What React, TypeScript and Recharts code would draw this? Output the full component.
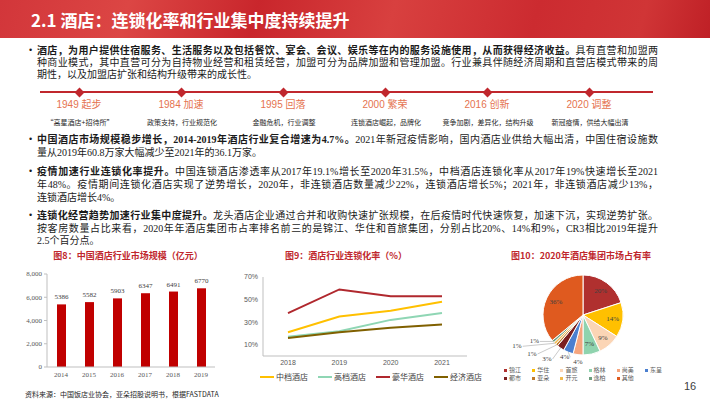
import React from 'react';
import { BarChart, Bar, XAxis, YAxis, LabelList, LineChart, Line, PieChart, Pie, Cell } from 'recharts';

// 图8 市场规模（亿元）
const sizeYears = ['2014', '2015', '2016', '2017', '2018', '2019'];
const sizeValues = [5386, 5582, 5903, 6347, 6491, 6770];
const sizeTicks = [0, 1000, 2000, 3000, 4000, 5000, 6000, 7000, 8000];

// 图9 连锁化率（%）
const chainYears = ['2018', '2019', '2020', '2021'];
const midscale = [21, 35, 40, 48];
const upscale = [17, 22, 32, 38];
const luxury = [38, 59, 53, 53];
const economy = [16, 21, 25, 28];
const chainTicks = [0, 10, 20, 30, 40, 50, 60, 70];

// 图10 2020年酒店集团市场占有率
const groupNames = ['锦江', '华住', '首旅', '格林', '尚美', '东呈', '都市', '亚朵', '开元', '逸柏', '其他'];
const groupShares = [20, 14, 9, 7, 4, 4, 3, 1, 1, 1, 36];

// 发展历程
const stageYears = ['1949', '1984', '1995', '2000', '2016', '2020'];
const stageNames = ['起步', '加速', '回落', '繁荣', '创新', '调整'];
const stageNotes = ['“高星酒店+招待所”', '政策支持，行业规范化', '金融危机，行业调整', '连锁酒店崛起，品牌化', '竞争加剧，差异化，结构升级', '新冠疫情，供给大幅出清'];

const RED = '#C0272D';
const SERIF = '"Liberation Serif", "Noto Sans CJK SC", serif';
const SANS = '"Liberation Sans", "Noto Sans CJK SC", sans-serif';
const CJK = '"Noto Sans CJK SC", sans-serif';

const sizeData = sizeYears.map((year, i) => ({ year, value: sizeValues[i] }));
const chainData = chainYears.map((year, i) => ({
  year, mid: midscale[i], up: upscale[i], lux: luxury[i], eco: economy[i],
}));
const pieData = groupNames.map((name, i) => ({ name, value: groupShares[i] }));

const lineSeries = [
  { key: 'mid', name: '中档酒店', color: '#FFC000' },
  { key: 'up', name: '高档酒店', color: '#8FD6B4' },
  { key: 'lux', name: '豪华酒店', color: '#B0282E' },
  { key: 'eco', name: '经济酒店', color: '#806000' },
];

const pieColors = ['#B0302F', '#FFC000', '#FBD5B5', '#8FD3AE', '#F5A57E', '#4A7FD0', '#7B1F1F', '#C07A2A', '#F2B84B', '#6E9E7E', '#DF5A1F'];

// label offsets (from slice edge) for the thin slices
const outsideOffsets: Record<number, [number, number]> = {
  4: [0, 7], 5: [2, 5], 6: [-8, 11], 7: [-19, 9], 8: [-32, 3], 9: [-13, 0],
};

const RAD = Math.PI / 180;
const renderPieLabel = (props: any) => {
  const { cx, cy, midAngle, outerRadius, index, value } = props;
  const cos = Math.cos(-midAngle * RAD);
  const sin = Math.sin(-midAngle * RAD);
  const style = { fontSize: 7, fontFamily: SERIF, fill: '#404040' };
  if (value >= 7) {
    const r = outerRadius * 0.75;
    return (
      <text x={cx + r * cos} y={cy + r * sin} textAnchor="middle" dominantBaseline="central" style={style}>
        {value}%
      </text>
    );
  }
  const off = outsideOffsets[index] || [0, 8];
  const sx = cx + outerRadius * cos;
  const sy = cy + outerRadius * sin;
  const ex = sx + off[0];
  const ey = sy + off[1];
  if (index === 4) {
    return (
      <text x={ex} y={ey} textAnchor="middle" dominantBaseline="central" style={style}>{value}%</text>
    );
  }
  return (
    <g>
      <polyline points={`${sx},${sy} ${ex},${ey}`} fill="none" stroke="#A6A6A6" strokeWidth={0.6} />
      <text x={ex - 1} y={ey} textAnchor="end" dominantBaseline="central" style={style}>{value}%</text>
    </g>
  );
};

const Line_ = ({ top, full, children }: any) => (
  <div style={{
    position: 'absolute', left: 37, top, width: 621, height: 13, lineHeight: '13px',
    fontSize: 10, fontFamily: SERIF, color: '#1a1a1a',
    textAlign: full ? 'justify' : 'left', textAlignLast: full ? 'justify' : 'left',
  } as React.CSSProperties}>{children}</div>
);

const Dot = ({ top }: { top: number }) => (
  <div style={{ position: 'absolute', left: 29, top, fontSize: 9, lineHeight: '13px', color: '#1a1a1a', fontFamily: SANS }}>•</div>
);

const ChartTitle = ({ left, children }: any) => (
  <div style={{ position: 'absolute', left, top: 250, width: 200, textAlign: 'center', fontSize: 9, lineHeight: '12px', fontWeight: 'bold', color: RED, fontFamily: CJK }}>
    {children}
  </div>
);

export default function App() {
  return (
    <div style={{ position: 'absolute', left: 0, top: 0, width: 710, height: 399, overflow: 'hidden', background: '#fff' }}>
      {/* header */}
      <div style={{
        position: 'absolute', left: 0, top: 0, width: 710, height: 38,
        background: 'linear-gradient(105deg, #D2363A 0%, #DC4644 18%, #C9262C 36%, #D8403F 55%, #CC2B30 75%, #D03536 90%, #BF2026 100%)',
      }} />
      <div style={{ position: 'absolute', left: 31, top: 8, fontSize: 17, lineHeight: '24px', fontWeight: 'bold', color: '#fff', fontFamily: CJK }}>
        2.1 酒店：连锁化率和行业集中度持续提升
      </div>

      {/* bullet 1 */}
      <Dot top={44} />
      <Line_ top={44} full><b>酒店，为用户提供住宿服务、生活服务以及包括餐饮、宴会、会议、娱乐等在内的服务设施使用，从而获得经济收益。</b>具有直营和加盟两</Line_>
      <Line_ top={56} full>种商业模式，其中直营可分为自持物业经营和租赁经营，加盟可分为品牌加盟和管理加盟。行业兼具伴随经济周期和直营店模式带来的周</Line_>
      <Line_ top={68}>期性，以及加盟店扩张和结构升级带来的成长性。</Line_>

      {/* timeline */}
      <div style={{ position: 'absolute', left: 40, top: 91, width: 613, height: 1.5, background: RED }} />
      {stageYears.map((y, i) => {
        const x = 79 + i * 102;
        return (
          <React.Fragment key={y}>
            <div style={{ position: 'absolute', left: x - 3.5, top: 88.5, width: 7, height: 7, background: RED, transform: 'rotate(45deg)' }} />
            <div style={{ position: 'absolute', left: x - 50, top: 98, width: 100, textAlign: 'center', fontSize: 10, lineHeight: '14px', color: '#E5734F', fontFamily: SANS }}>
              {y} {stageNames[i]}
            </div>
            <div style={{ position: 'absolute', left: x - 55, top: 117, width: 112, textAlign: 'center', fontSize: 7, lineHeight: '10px', color: '#262626', fontFamily: CJK }}>
              {stageNotes[i]}
            </div>
          </React.Fragment>
        );
      })}

      {/* bullet 2 */}
      <Dot top={133} />
      <Line_ top={133} full><b>中国酒店市场规模稳步增长，2014-2019年酒店行业复合增速为4.7%。</b>2021年新冠疫情影响，国内酒店业供给大幅出清，中国住宿设施数</Line_>
      <Line_ top={146}>量从2019年60.8万家大幅减少至2021年的36.1万家。</Line_>

      {/* bullet 3 */}
      <Dot top={165} />
      <Line_ top={165} full><b>疫情加速行业连锁化率提升。</b>中国连锁酒店渗透率从2017年19.1%增长至2020年31.5%，中档酒店连锁化率从2017年19%快速增长至2021</Line_>
      <Line_ top={178} full>年48%。疫情期间连锁化酒店实现了逆势增长，2020年，非连锁酒店数量减少22%，连锁酒店增长5%；2021年，非连锁酒店减少13%，</Line_>
      <Line_ top={191}>连锁酒店增长4%。</Line_>

      {/* bullet 4 */}
      <Dot top={209} />
      <Line_ top={209} full><b>连锁化经营趋势加速行业集中度提升。</b>龙头酒店企业通过合并和收购快速扩张规模，在后疫情时代快速恢复，加速下沉，实现逆势扩张。</Line_>
      <Line_ top={222} full>按客房数量占比来看，2020年年酒店集团市占率排名前三的是锦江、华住和首旅集团，分别占比20%、14%和9%，CR3相比2019年提升</Line_>
      <Line_ top={234}>2.5个百分点。</Line_>

      {/* chart titles */}
      <ChartTitle left={28}>图8：中国酒店行业市场规模（亿元）</ChartTitle>
      <ChartTitle left={246}>图9：酒店行业连锁化率（%）</ChartTitle>
      <ChartTitle left={481}>图10：2020年酒店集团市场占有率</ChartTitle>

      {/* bar chart */}
      <div style={{ position: 'absolute', left: 0, top: 265 }}>
        <BarChart width={225} height={118} data={sizeData} margin={{ top: 9, right: 10, left: 0, bottom: 0 }}>
          <XAxis dataKey="year" interval={0} height={16} tickSize={3} tickLine={false}
            axisLine={{ stroke: '#BFBFBF' }} tick={{ fontSize: 7, fill: '#595959', fontFamily: SERIF }} />
          <YAxis domain={[0, 8000]} ticks={sizeTicks} width={47} tickSize={3}
            tickFormatter={(v: number) => v.toLocaleString('en-US')}
            axisLine={{ stroke: '#BFBFBF' }} tickLine={{ stroke: '#BFBFBF' }}
            tick={{ fontSize: 7, fill: '#595959', fontFamily: SERIF }} />
          <Bar dataKey="value" fill="#C00000" barSize={9} isAnimationActive={false}>
            <LabelList dataKey="value" position="top" style={{ fontSize: 7, fill: '#404040', fontFamily: SERIF }} />
          </Bar>
        </BarChart>
      </div>

      {/* line chart */}
      <div style={{ position: 'absolute', left: 235, top: 268 }}>
        <LineChart width={240} height={104} data={chainData} margin={{ top: 9, right: 8, left: 0, bottom: 0 }}>
          <XAxis dataKey="year" interval={0} height={16} tickSize={2} tickLine={false} padding={{ left: 25, right: 25 }}
            axisLine={{ stroke: '#BFBFBF' }} tick={{ fontSize: 7, fill: '#595959', fontFamily: SANS }} />
          <YAxis domain={[0, 70]} ticks={chainTicks} width={28} tickSize={3} tickLine={false}
            tickFormatter={(v: number) => `${v}%`}
            axisLine={{ stroke: '#BFBFBF' }} tick={{ fontSize: 7, fill: '#595959', fontFamily: SANS }} />
          {lineSeries.map((s) => (
            <Line key={s.key} dataKey={s.key} name={s.name} stroke={s.color} strokeWidth={2}
              dot={false} type="linear" isAnimationActive={false} />
          ))}
        </LineChart>
      </div>
      <div style={{ position: 'absolute', left: 260, top: 371, display: 'flex', gap: 10 }}>
        {lineSeries.map((s) => (
          <div key={s.key} style={{ display: 'flex', alignItems: 'center', gap: 2 }}>
            <div style={{ width: 14, height: 2.5, background: s.color }} />
            <span style={{ fontSize: 8, lineHeight: '12px', color: '#404040', fontFamily: CJK }}>{s.name}</span>
          </div>
        ))}
      </div>

      {/* pie chart */}
      <div style={{ position: 'absolute', left: 470, top: 265, width: 240, height: 102 }}>
        <PieChart width={240} height={102} margin={{ top: 0, right: 0, bottom: 0, left: 0 }}>
          <Pie data={pieData} dataKey="value" nameKey="name" cx={113} cy={50} outerRadius={40}
            startAngle={90} endAngle={-270} stroke="#fff" strokeWidth={1}
            label={renderPieLabel} labelLine={false} isAnimationActive={false}>
            {pieData.map((d, i) => <Cell key={d.name} fill={pieColors[i]} />)}
          </Pie>
        </PieChart>
      </div>
      <div style={{ position: 'absolute', left: 504, top: 366, width: 180, display: 'grid', gridTemplateColumns: 'repeat(6, 28.2px)', rowGap: 0 }}>
        {groupNames.map((n, i) => (
          <div key={n} style={{ display: 'flex', alignItems: 'center', gap: 2, height: 8 }}>
            <div style={{ width: 3, height: 3, background: pieColors[i] }} />
            <span style={{ fontSize: 6, lineHeight: '8px', color: '#595959', fontFamily: CJK }}>{n}</span>
          </div>
        ))}
      </div>

      {/* footer */}
      <div style={{ position: 'absolute', left: 25, top: 389, fontSize: 7, lineHeight: '10px', color: '#262626', fontFamily: CJK }}>
        资料来源：中国饭店业协会，亚朵招股说明书，根据FASTDATA
      </div>
      <div style={{ position: 'absolute', left: 684, top: 379, fontSize: 11, lineHeight: '14px', color: '#404040', fontFamily: SANS }}>
        16
      </div>
    </div>
  );
}
